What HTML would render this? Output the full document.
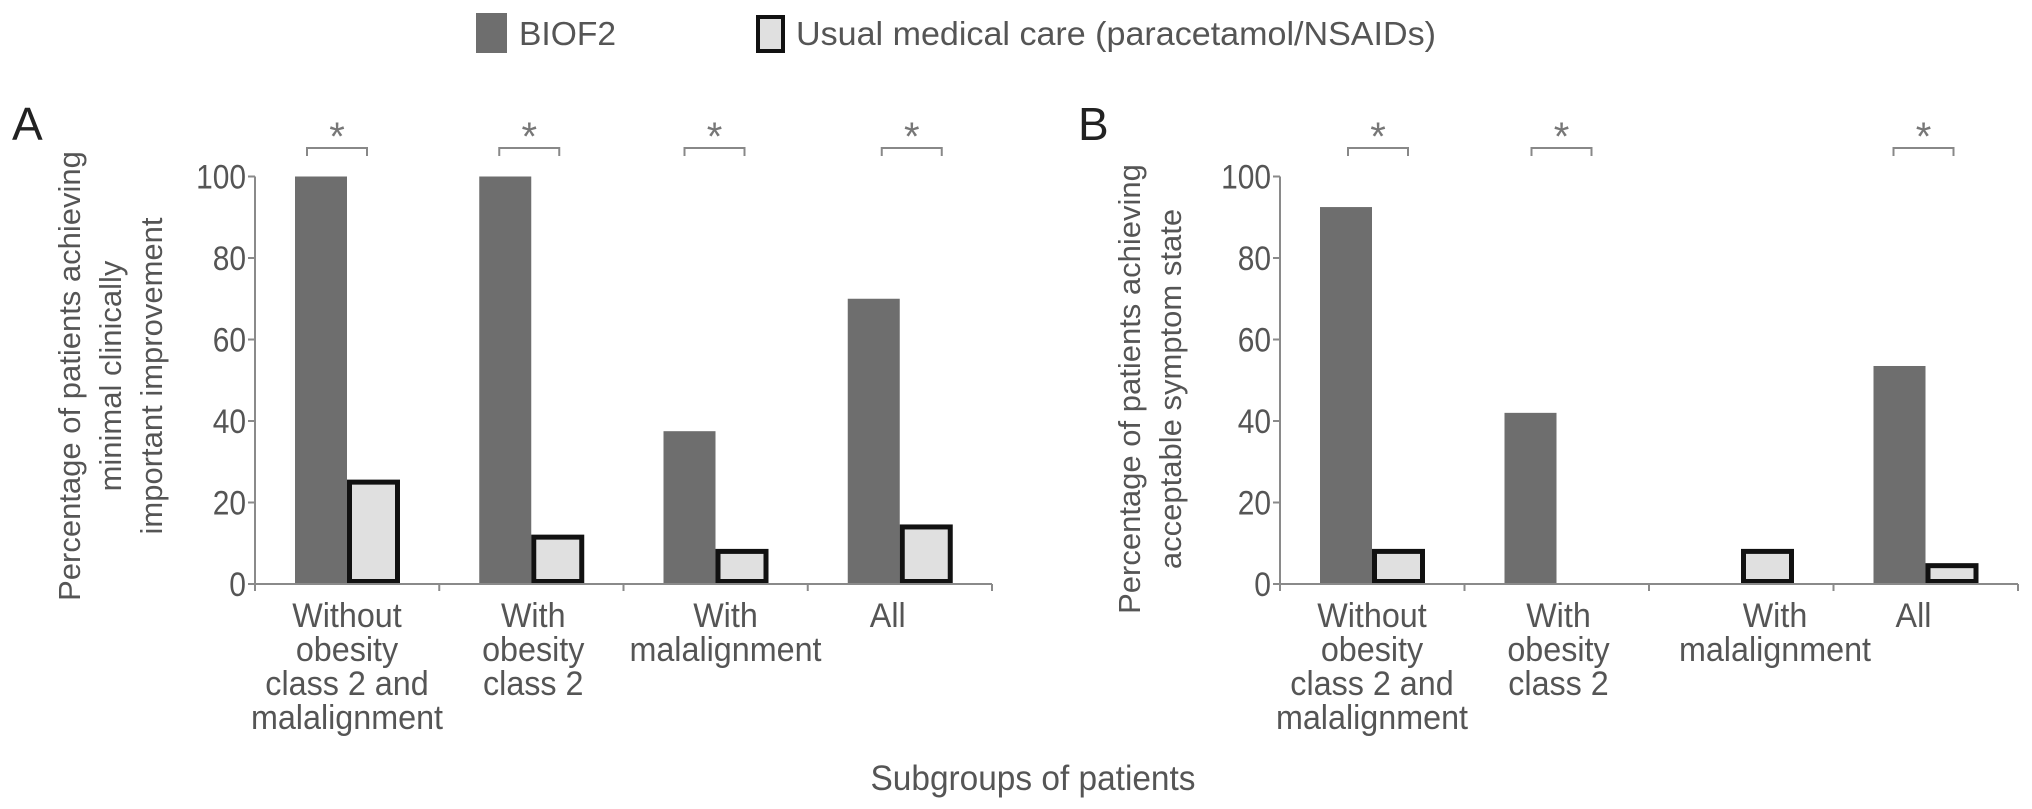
<!DOCTYPE html>
<html><head><meta charset="utf-8"><style>
html,body{margin:0;padding:0;background:#fff;}
svg{display:block;font-family:"Liberation Sans",sans-serif;}
</style></head><body>
<svg id="chart" width="2032" height="809" viewBox="0 0 2032 809" xmlns="http://www.w3.org/2000/svg">
<g>
  <rect x="476" y="13" width="31" height="40" fill="#6e6e6e"/>
  <text x="519" y="45" font-size="33" fill="#555" textLength="97" lengthAdjust="spacingAndGlyphs">BIOF2</text>
  <rect x="758" y="17" width="25" height="34" fill="#e0e0e0" stroke="#111" stroke-width="4"/>
  <text x="796" y="45" font-size="33" fill="#555" textLength="640" lengthAdjust="spacingAndGlyphs">Usual medical care (paracetamol/NSAIDs)</text>
</g>
<text x="12" y="140" font-size="46" fill="#222">A</text>
<text x="1078" y="140" font-size="46" fill="#222">B</text>
<text x="1033" y="790" font-size="35" fill="#555" text-anchor="middle" textLength="325" lengthAdjust="spacingAndGlyphs">Subgroups of patients</text>
<g id="panelA"></g>
<g id="panelB"></g>
</svg>
<script>
const categories = [["Without","obesity","class 2 and","malalignment"],["With","obesity","class 2"],["With","malalignment"],["All"]];
const ticks = [0,20,40,60,80,100];
const tickLabels = ["0","20","40","60","80","100"];
const biofA = [100, 100, 37.5, 70];
const usualA = [25, 11.5, 8, 14];
const biofB = [92.5, 42, 0, 53.5];
const usualB = [8, 0, 8, 4.5];
const sigA = [true, true, true, true];
const sigB = [true, true, false, true];
const titleA = ["Percentage of patients achieving","minimal clinically","important improvement"];
const titleB = ["Percentage of patients achieving","acceptable symptom state"];

const NS = "http://www.w3.org/2000/svg";
function mk(parent, tag, attrs, text){
  const e = document.createElementNS(NS, tag);
  for (const k in attrs) e.setAttribute(k, attrs[k]);
  if (text !== undefined) e.textContent = text;
  parent.appendChild(e);
  return e;
}
const y0 = 584, y100 = 176.5;
function yScale(v){ return y0 - (y0 - y100) * v / 100; }

function drawPanel(g, x0, catW, biof, usual, sig, title, titleX, titleY, labelOffsets, bracketOffsets){
  const xOf = i => x0 + i * catW;
  const ax = mk(g, "line", {x1:x0, x2:x0, y1:y100, y2:y0, stroke:"#8a8a8a", "stroke-width":2});
  
  
  ticks.forEach((t, i) => {
    const y = yScale(t);
    const tl = mk(g, "line", {x1:x0-7, x2:x0, y1:y, y2:y, stroke:"#8a8a8a", "stroke-width":2});
    
    
    const tx = mk(g, "text", {x:x0-9, y:y+12, "font-size":34, fill:"#555", "text-anchor":"end", class:"c88"}, tickLabels[i]);
    
    
  });
  biof.forEach((v, i) => {
    const cx = xOf(i);
    if (v > 0) {
      const r = mk(g, "rect", {x:cx+40, y:yScale(v), width:52, height:y0-yScale(v), fill:"#6e6e6e"});
      
      
    }
    const u = usual[i];
    if (u > 0) {
      const r2 = mk(g, "rect", {x:cx+94.5, y:yScale(u), width:48, height:y0-yScale(u)-2.5, fill:"#e0e0e0", stroke:"#111", "stroke-width":5});
      
      
    }
  });
  const xa = mk(g, "line", {x1:x0, x2:xOf(4), y1:y0, y2:y0, stroke:"#8a8a8a", "stroke-width":2});
  
  
  for (let i = 0; i <= 4; i++) {
    const t = mk(g, "line", {x1:xOf(i), x2:xOf(i), y1:y0, y2:y0+7, stroke:"#8a8a8a", "stroke-width":2});
    
    
  }
  categories.forEach((lines, i) => {
    const cx = xOf(i) + labelOffsets[i];
    lines.forEach((ln, j) => {
      const tx = mk(g, "text", {x:cx, y:627 + j*34, "font-size":34, fill:"#555", "text-anchor":"middle", class:"c95"}, ln);
      
      
    });
  });
  sig.forEach((s, i) => {
    if (!s) return;
    const bx = xOf(i) + bracketOffsets[i];
    const p = mk(g, "path", {d:`M${bx},156 V148 H${bx+60} V156`, fill:"none", stroke:"#888", "stroke-width":2});
    
    
    const a = mk(g, "text", {x:bx+30, y:150, "font-size":40, fill:"#777", "text-anchor":"middle"}, "*");
    
    
  });
  title.forEach((ln, j) => {
    const tt = mk(g, "text", {transform:`translate(${titleX + j*41},${titleY}) rotate(-90)`, x:0, y:0, "font-size":31, fill:"#555", "text-anchor":"middle"}, ln);
    
    
  });
}
drawPanel(document.getElementById("panelA"), 255, 184.25, biofA, usualA, sigA, titleA, 80, 376, [92, 94, 102, 80], [52, 60, 61, 74]);
drawPanel(document.getElementById("panelB"), 1280, 184.5, biofB, usualB, sigB, titleB, 1140, 389, [92, 94, 126, 80], [68, 67, 0, 60]);

function condense(sel, f){
  document.querySelectorAll(sel).forEach(t => {
    const w = t.getComputedTextLength();
    t.setAttribute("textLength", (w * f).toFixed(1));
    t.setAttribute("lengthAdjust", "spacingAndGlyphs");
  });
}
condense("text.c88", 0.88);
condense("text.c95", 0.95);
</script>
</body></html>
